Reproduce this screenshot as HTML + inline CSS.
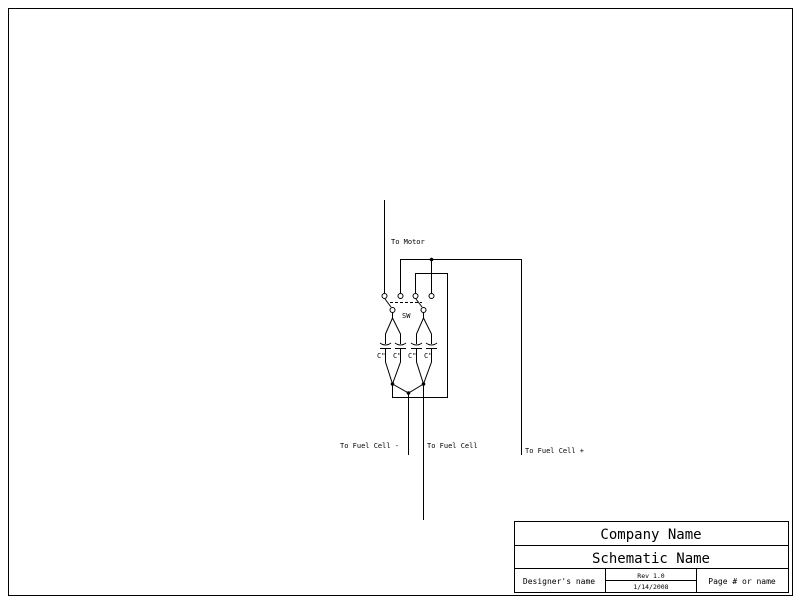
<!DOCTYPE html>
<html><head><style>
html,body{margin:0;padding:0;background:#fff;}
svg{display:block;}
text{font-family:"DejaVu Sans Mono","Liberation Mono",monospace;fill:#000;}
</style></head><body>
<svg width="800" height="604" viewBox="0 0 800 604" xmlns="http://www.w3.org/2000/svg">
<g fill="none" stroke="#000" stroke-width="1">
<rect x="8.5" y="8.5" width="784" height="587"/>
<!-- title block -->
<rect x="514.5" y="521.5" width="274" height="71"/>
<line x1="514" y1="545.5" x2="788" y2="545.5"/>
<line x1="514" y1="568.5" x2="788" y2="568.5"/>
<line x1="605.5" y1="568" x2="605.5" y2="592"/>
<line x1="696.5" y1="568" x2="696.5" y2="592"/>
<line x1="605" y1="580.5" x2="696" y2="580.5"/>
<!-- wires -->
<polyline points="384.5,200 384.5,293"/>
<polyline points="400.5,293 400.5,259.5 521.5,259.5 521.5,455"/>
<line x1="431.5" y1="259" x2="431.5" y2="293"/>
<polyline points="415.5,293 415.5,273.5 447.5,273.5 447.5,397.5 392.5,397.5 392.5,384"/>
<!-- terminals -->
<circle cx="384.5" cy="296" r="2.5"/>
<circle cx="400.5" cy="296" r="2.5"/>
<circle cx="415.5" cy="296" r="2.5"/>
<circle cx="431.5" cy="296" r="2.5"/>
<circle cx="392.5" cy="310" r="2.5"/>
<circle cx="423.5" cy="310" r="2.5"/>
<line x1="385" y1="299" x2="391" y2="307"/>
<line x1="416" y1="299" x2="422" y2="307"/>
<line x1="390" y1="302.5" x2="422" y2="302.5" stroke-dasharray="3,2"/>
<!-- fans to caps -->
<polyline points="392.5,313 392.5,318 385.5,334 385.5,344"/>
<polyline points="392.5,318 400.5,334 400.5,344"/>
<polyline points="423.5,313 423.5,318 416.5,334 416.5,344"/>
<polyline points="423.5,318 431.5,334 431.5,344"/>
<!-- caps -->
<g>
<path d="M380,343 Q385.5,347 391,343"/><line x1="380" y1="348.5" x2="391" y2="348.5"/>
<path d="M395,343 Q400.5,347 406,343"/><line x1="395" y1="348.5" x2="406" y2="348.5"/>
<path d="M411,343 Q416.5,347 422,343"/><line x1="411" y1="348.5" x2="422" y2="348.5"/>
<path d="M426,343 Q431.5,347 437,343"/><line x1="426" y1="348.5" x2="437" y2="348.5"/>
</g>
<polyline points="385.5,349 385.5,362 392.5,384 400.5,362 400.5,349"/>
<polyline points="416.5,349 416.5,362 423.5,384 431.5,362 431.5,349"/>
<polyline points="392.5,384 408.5,393 423.5,384"/>
<line x1="408.5" y1="393" x2="408.5" y2="455"/>
<line x1="423.5" y1="384" x2="423.5" y2="520"/>
</g>
<g fill="#000">
<circle cx="431.5" cy="259.5" r="1.8"/>
<circle cx="392.5" cy="384" r="1.8"/>
<circle cx="423.5" cy="384" r="1.8"/>
<circle cx="408.5" cy="393" r="1.8"/>
</g>
<g font-size="7">
<text x="391" y="244">To Motor</text>
<text x="402" y="318">SW</text>
<text x="377" y="358">C"</text>
<text x="393" y="358">C"</text>
<text x="408" y="358">C"</text>
<text x="424" y="358">C"</text>
<text x="340" y="448">To Fuel Cell -</text>
<text x="427" y="448">To Fuel Cell</text>
<text x="525" y="453">To Fuel Cell +</text>
</g>
<text x="651" y="539" font-size="14" text-anchor="middle">Company Name</text>
<text x="651" y="563" font-size="14" text-anchor="middle">Schematic Name</text>
<text x="559" y="584" font-size="8" text-anchor="middle">Designer's name</text>
<text x="651" y="578" font-size="6.5" text-anchor="middle">Rev 1.0</text>
<text x="651" y="589" font-size="6.5" text-anchor="middle">1/14/2008</text>
<text x="742" y="584" font-size="8" text-anchor="middle">Page # or name</text>
</svg>
</body></html>
